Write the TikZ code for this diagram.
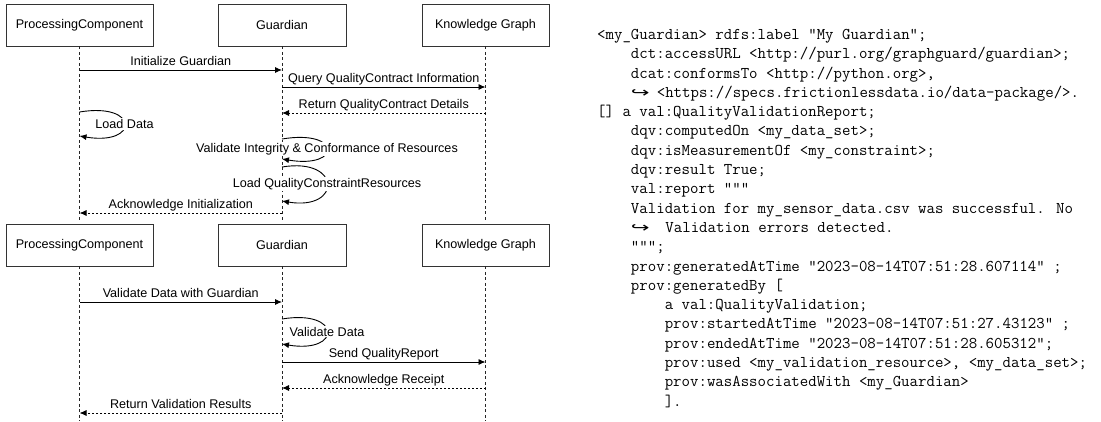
\documentclass[tikz,border=0pt]{standalone}
\usepackage{fontspec}
\setmainfont{Liberation Sans}
\newfontfamily\arrowfont{DejaVu Sans}
\usetikzlibrary{arrows.meta}

\newcommand{\fsize}{\fontsize{12.6}{15}\selectfont}
\newcommand{\codeind}{\phantom{xxxx}}
\newcommand{\contarrow}[1]{\makebox[#1][l]{\scalebox{1.6}[1]{\arrowfont\fontsize{14}{14}\selectfont ↪}}}

\tikzset{
  actor/.style={draw=black!80,line width=0.8pt,fill=white,minimum height=42pt,font=\fsize},
  lifeline/.style={draw=black!85,line width=0.7pt,dash pattern=on 3pt off 2.5pt},
  msg/.style={line width=0.9pt,->},
  reply/.style={msg,dash pattern=on 2pt off 2pt},
  lbl/.style={font=\fsize,inner sep=2.5pt,text height=9pt,text depth=2pt},
  looplbl/.style={font=\fsize,fill=white,inner sep=1pt},
  code/.style={anchor=north west,inner sep=0pt,align=left,font=\fontsize{16.4}{19.3}\selectfont\ttfamily}
}

\begin{document}
\begin{tikzpicture}[x=1pt,y=-1pt,>={Latex[length=7pt,width=6pt]}]
\useasboundingbox (0,0) rectangle (1101,421);

% actors, first run
\node[actor,minimum width=147pt] (pc1) at (79.5,25) {ProcessingComponent};
\node[actor,minimum width=128pt] (gd1) at (282,25) {Guardian};
\node[actor,minimum width=127pt] (kg1) at (485.5,25) {Knowledge Graph};
% actors, second run
\node[actor,minimum width=147pt] (pc2) at (79.5,245) {ProcessingComponent};
\node[actor,minimum width=128pt] (gd2) at (282,245) {Guardian};
\node[actor,minimum width=127pt] (kg2) at (485.5,245) {Knowledge Graph};
\coordinate (bottom) at (0,421);

\draw[lifeline,shorten >=3pt] (pc1) -- (pc2);
\draw[lifeline,shorten >=3pt] (gd1) -- (gd2);
\draw[lifeline,shorten >=3pt] (kg1) -- (kg2);
\draw[lifeline] (pc2) -- (pc2 |- bottom);
\draw[lifeline] (gd2) -- (gd2 |- bottom);
\draw[lifeline] (kg2) -- (kg2 |- bottom);

% message levels
\coordinate (m1) at (0,70);
\coordinate (m2) at (0,87);
\coordinate (m3) at (0,113);
\coordinate (s1a) at (0,112);
\coordinate (s1b) at (0,136);
\coordinate (s2a) at (0,139);
\coordinate (s2b) at (0,159);
\coordinate (s3a) at (0,167);
\coordinate (s3b) at (0,201);
\coordinate (m4) at (0,213);
\coordinate (m5) at (0,302);
\coordinate (s4a) at (0,319);
\coordinate (s4b) at (0,344);
\coordinate (m6) at (0,362);
\coordinate (m7) at (0,388);
\coordinate (m8) at (0,413);

\draw[msg] (pc1 |- m1) -- node[lbl,above] (l1) {Initialize Guardian} (gd1 |- m1);
\draw[msg] (gd1 |- m2) -- node[lbl,above] (l2) {Query QualityContract Information} (kg1 |- m2);
\draw[reply] (kg1 |- m3) -- node[lbl,above] (l3) {Return QualityContract Details} (gd1 |- m3);
\draw[msg] (pc1 |- s1a) .. controls +(60,-10) and +(60,10) .. node[looplbl] (l4) {Load Data} (pc1 |- s1b);
\draw[msg] (gd1 |- s2a) .. controls +(60,-10) and +(60,10) .. node[looplbl] (l5) {Validate Integrity \& Conformance of Resources} (gd1 |- s2b);
\draw[msg] (gd1 |- s3a) .. controls +(60,-10) and +(60,10) .. node[looplbl] (l6) {Load QualityConstraintResources} (gd1 |- s3b);
\draw[reply] (gd1 |- m4) -- node[lbl,above] (l7) {Acknowledge Initialization} (pc1 |- m4);

\draw[msg] (pc2 |- m5) -- node[lbl,above] (l8) {Validate Data with Guardian} (gd2 |- m5);
\draw[msg] (gd2 |- s4a) .. controls +(60,-10) and +(60,10) .. node[looplbl] (l9) {Validate Data} (gd2 |- s4b);
\draw[msg] (gd2 |- m6) -- node[lbl,above] (l10) {Send QualityReport} (kg2 |- m6);
\draw[reply] (kg2 |- m7) -- node[lbl,above] (l11) {Acknowledge Receipt} (gd2 |- m7);
\draw[reply] (gd2 |- m8) -- node[lbl,above] (l12) {Return Validation Results} (pc2 |- m8);

% turtle listing
\node[code] (turtle) at (597,29) {%
<my\_Guardian> rdfs:label "My Guardian";\\
\codeind dct:accessURL <http://purl.org/graphguard/guardian>;\\
\codeind dcat:conformsTo <http://python.org>,\\
\codeind\contarrow{1.575em}<https://specs.frictionlessdata.io/data-package/>.\\
{}[] a val:QualityValidationReport;\\
\codeind dqv:computedOn <my\_data\_set>;\\
\codeind dqv:isMeasurementOf <my\_constraint>;\\
\codeind dqv:result True;\\
\codeind val:report """\\
\codeind Validation for my\_sensor\_data.csv was successful. No\\
\codeind\contarrow{2.1em}Validation errors detected.\\
\codeind """;\\
\codeind prov:generatedAtTime "2023-08-14T07:51:28.607114" ;\\
\codeind prov:generatedBy {}[\\
\codeind\codeind a val:QualityValidation;\\
\codeind\codeind prov:startedAtTime "2023-08-14T07:51:27.43123" ;\\
\codeind\codeind prov:endedAtTime "2023-08-14T07:51:28.605312";\\
\codeind\codeind prov:used <my\_validation\_resource>, <my\_data\_set>;\\
\codeind\codeind prov:wasAssociatedWith <my\_Guardian>\\
\codeind\codeind ].};
\end{tikzpicture}
\end{document}
